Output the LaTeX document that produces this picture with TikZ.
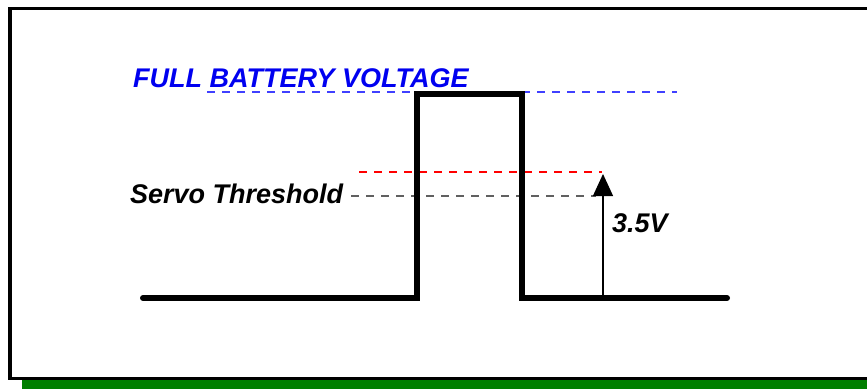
\documentclass[tikz,border=0pt]{standalone}
\usepackage{fontspec}
\setmainfont{Liberation Sans}
\usetikzlibrary{arrows.meta,positioning}
\definecolor{servoBlue}{HTML}{0000F0}
\definecolor{servoDash}{HTML}{4040FF}
\definecolor{servoRed}{HTML}{FF0000}
\definecolor{servoGrey}{HTML}{606060}
\definecolor{servoGreen}{HTML}{007F00}

\begin{document}
\begin{tikzpicture}[x=1pt,y=-1pt,>=Latex,line cap=round,line join=miter]
\useasboundingbox (0,0) rectangle (867,389);
\clip (0,0) rectangle (867,389);
\tikzset{pulse/.style={draw=black,line width=6pt},level/.style={line width=1.1pt,line cap=butt,dash pattern=on 8pt off 7pt},tag/.style={inner sep=0pt,anchor=base west,font=\fontsize{27}{32}\selectfont\bfseries\itshape}}
% frame and green strip
\path[fill=servoGreen] (22,380) rectangle (867,389);
\draw[line width=3.5pt,line cap=butt] (880,8.5) -- (10,8.5) -- (10,378.5) -- (880,378.5);
% labels
\node[tag,text=servoBlue] (battery) at (133,87) {FULL BATTERY VOLTAGE};
\node[tag] (servo) at (130,203) {Servo Threshold};
\node[tag] (swing) at (612,232) {3.5V};
% waveform corners
\coordinate (lowL) at (143,298); \coordinate (riseB) at (417,298); \coordinate (riseT) at (417,94);
\coordinate (fallT) at (522,94); \coordinate (fallB) at (522,298); \coordinate (lowR) at (727,298);
% levels
\coordinate (fullL) at (207,92); \coordinate (fullR) at (677,92);
\coordinate (redL) at (359,172); \coordinate (redR) at (602,172);
\coordinate (thrL) at (351,196); \coordinate (thrR) at (596,196);
\draw[level,draw=servoDash] (fullL) -- (fullR);
\draw[level,draw=servoRed] (redL) -- (redR);
\draw[level,draw=servoGrey] (thrL) -- (thrR);
\draw[pulse] (lowL) -- (riseB) -- (riseT) -- (fallT) -- (fallB) -- (lowR);
% 3.5V arrow
\coordinate (arrFoot) at (603,298); \coordinate (arrTip) at (603,174);
\draw[line width=1.2pt,-{Triangle[length=22pt,width=20pt]}] (arrFoot) -- (arrTip);
\end{tikzpicture}
\end{document}
